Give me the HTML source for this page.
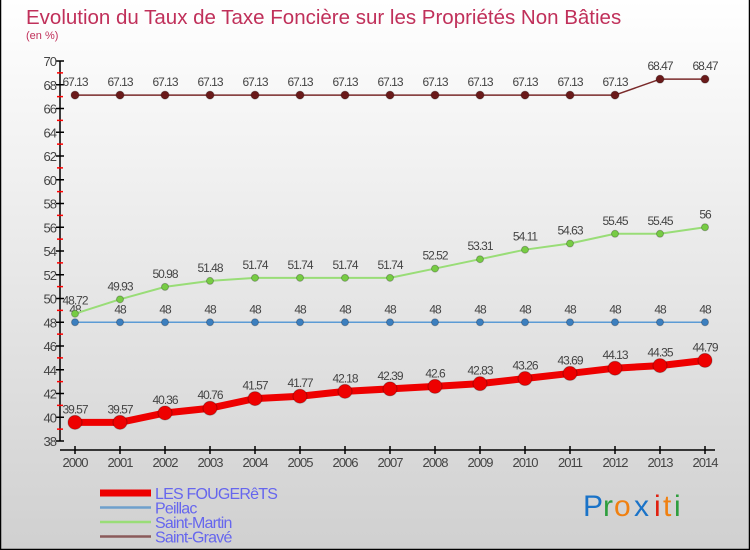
<!DOCTYPE html>
<html><head><meta charset="utf-8"><style>
body{margin:0}
#c{width:750px;height:550px;position:relative;overflow:hidden}
svg text{font-family:"Liberation Sans",sans-serif}
</style></head><body>
<div id="c">
<svg id="s" width="750" height="550" xmlns="http://www.w3.org/2000/svg">
<defs><linearGradient id="bg" x1="0" y1="0" x2="0" y2="1"><stop offset="0" stop-color="#ffffff"/><stop offset="1" stop-color="#d0d0d0"/></linearGradient></defs>
<rect x="0" y="0" width="750" height="550" fill="url(#bg)"/>
<path d="M0.5,0 V549.5 H749.5 V0" fill="none" stroke="#000" stroke-width="1.5"/>
<text x="26" y="24" font-size="20.5" fill="#c0305a">Evolution du Taux de Taxe Foncière sur les Propriétés Non Bâties</text>
<text x="26" y="39" font-size="11" fill="#c0305a">(en %)</text>
<g id="axes"></g><g id="series"></g><g id="legend"></g>
<g font-size="30" font-family="'Liberation Sans',sans-serif">
<text x="583" y="516" fill="#1a73c8">P</text><text x="603" y="516" fill="#2e9e3e">r</text><text x="614" y="516" fill="#f08010">o</text><text x="634" y="516" fill="#1a73c8">x</text><text x="654" y="516" fill="#e02010">i</text><text x="663" y="516" fill="#f08010">t</text><text x="674" y="516" fill="#2e9e3e">i</text>
</g>
</svg></div>
<script>
const years=[2000,2001,2002,2003,2004,2005,2006,2007,2008,2009,2010,2011,2012,2013,2014];
const fougerets=[39.57,39.57,40.36,40.76,41.57,41.77,42.18,42.39,42.6,42.83,43.26,43.69,44.13,44.35,44.79];
const peillac=[48,48,48,48,48,48,48,48,48,48,48,48,48,48,48];
const saintMartin=[48.72,49.93,50.98,51.48,51.74,51.74,51.74,51.74,52.52,53.31,54.11,54.63,55.45,55.45,56];
const saintGrave=[67.13,67.13,67.13,67.13,67.13,67.13,67.13,67.13,67.13,67.13,67.13,67.13,67.13,68.47,68.47];
const yTicks=[38,40,42,44,46,48,50,52,54,56,58,60,62,64,66,68,70];
const NS='http://www.w3.org/2000/svg';
const yMin=38,yMax=70,yTop=61,yBot=441,x0=75,dx=45;
const Y=v=>yBot-(v-yMin)*(yBot-yTop)/(yMax-yMin);
const X=i=>x0+i*dx;
function mk(t,a,p){const e=document.createElementNS(NS,t);for(const k in a)e.setAttribute(k,a[k]);p.appendChild(e);return e;}
const ax=document.getElementById('axes');
let e=mk('line',{x1:60,y1:yTop,x2:60,y2:yBot,stroke:'#000','stroke-width':1.5},ax);

e=mk('line',{x1:60,y1:450,x2:715,y2:450,stroke:'#000','stroke-width':1.5},ax);

yTicks.forEach(v=>{
 const t=mk('line',{x1:56,x2:64,y1:Y(v),y2:Y(v),stroke:'#000','stroke-width':1.5},ax);
 
 if(v<yMax){const m=mk('line',{x1:57,x2:63,y1:Y(v+1),y2:Y(v+1),stroke:'#f00','stroke-width':1.5},ax);
 }
 const l=mk('text',{x:56,y:Y(v)+5,'font-size':13,fill:'#444','text-anchor':'end','letter-spacing':'-1'},ax);l.textContent=v;
 
});
years.forEach((y,i)=>{
 const t=mk('line',{x1:X(i),x2:X(i),y1:446,y2:454,stroke:'#000','stroke-width':1.5},ax);
 
 const l=mk('text',{x:X(i),y:467,'font-size':13,fill:'#444','text-anchor':'middle','letter-spacing':'-1'},ax);l.textContent=y;
 
});
const sg=document.getElementById('series');
function series(name,vals,col,w,r,dot){
 const g=mk('g',{},sg);
 const p=mk('polyline',{points:vals.map((v,i)=>X(i)+','+Y(v)).join(' '),fill:'none',stroke:col,'stroke-width':w,'stroke-linejoin':'round'},g);
 
 vals.forEach((v,i)=>{
  const c=mk('circle',{cx:X(i),cy:Y(v),r:r,fill:dot,stroke:'rgba(0,0,0,0.25)','stroke-width':1},g);
  
  const l=mk('text',{x:X(i),y:Y(v)-9,'font-size':12,fill:'#444','text-anchor':'middle','letter-spacing':'-1'},g);l.textContent=v;
  
 });
}
series('peillac',peillac,'#5b9bd5',1.5,3.5,'#3c7fbf');
series('saint-martin',saintMartin,'#99dd77',2,3.5,'#77cc44');
series('saint-grave',saintGrave,'#7a2a2a',1.5,4,'#6a1a1a');
series('les-fougerets',fougerets,'#ee0000',7,7,'#ee0000');
const lg=document.getElementById('legend');
const items=[['LES FOUGERêTS','#ee0000',7],['Peillac','#6fa0cc',2.5],['Saint-Martin','#99dd77',2.5],['Saint-Gravé','#8a5a5a',2.5]];
items.forEach((it,i)=>{
 const y=493+i*14.5;
 const g=mk('g',{},lg);
 mk('line',{x1:100,x2:151,y1:y,y2:y,stroke:it[1],'stroke-width':it[2]},g);
 const t=mk('text',{x:155,y:y+6,'font-size':16,fill:'#6666ee','letter-spacing':'-0.8'},g);t.textContent=it[0];
});
</script>
</body></html>
